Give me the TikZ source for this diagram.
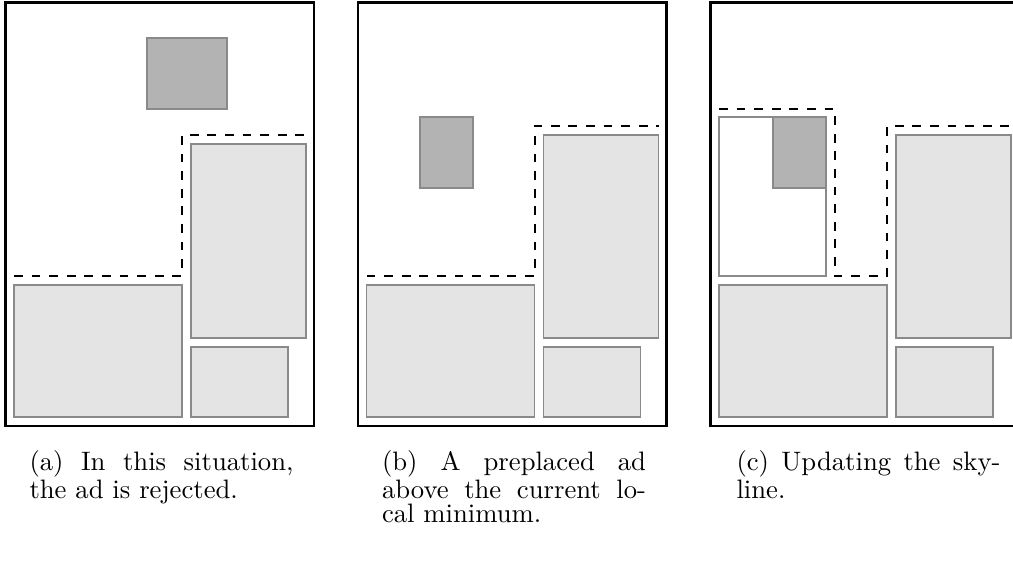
\documentclass[tikz,border=0pt]{standalone}
\usepackage{tikz}

\definecolor{blockfill}{HTML}{E4E4E4}
\definecolor{blockline}{HTML}{8A8A8A}
\definecolor{adfill}{HTML}{B3B3B3}

\tikzset{
  frame/.style={draw=black, line width=0.8pt},
  block/.style={draw=blockline, fill=blockfill, line width=0.7pt},
  freeblock/.style={draw=blockline, fill=white, line width=0.7pt},
  adbox/.style={draw=blockline, fill=adfill, line width=0.7pt},
  skyline/.style={draw=black, line width=0.75pt, dash pattern=on 3.3pt off 3.3pt},
  caption/.style={inner sep=0pt, anchor=north west, text width=99pt,
    align=justify, font=\fontsize{10}{9.2}\selectfont}
}

\begin{document}
\begin{tikzpicture}[x=0.375pt, y=-0.375pt]
  \useasboundingbox (0,0) rectangle (1013,563);
  \clip (0,0) rectangle (1013,563);

  % --- panel (a): the ad does not fit and is rejected
  \draw[frame] (5.5,2.5) rectangle (314,426);
  \draw[block] (14,285) rectangle (182,417);
  \draw[block] (191,144) rectangle (306,338);
  \draw[block] (191,347) rectangle (288,417);
  \draw[adbox] (147,38) rectangle (227,109);
  \draw[skyline] (14,276) -- (182,276) -- (182,135) -- (306,135);
  \node[caption] (capa) at (29,450)
    {(a) In this situation,\linebreak the ad is rejected.};

  % --- panel (b): a preplaced ad above the local minimum
  \begin{scope}[shift={(352.5,0)}]
    \draw[frame] (5.5,2.5) rectangle (314,426);
    \draw[block] (14,285) rectangle (182,417);
    \draw[block] (191,135) rectangle (306,338);
    \draw[block] (191,347) rectangle (288,417);
    \draw[adbox] (67.5,117) rectangle (120.5,188);
    \draw[skyline] (14,276) -- (182,276) -- (182,126) -- (306,126);
    \node[caption] (capb) at (29,450)
      {(b) A preplaced ad\linebreak above the current lo-\linebreak cal minimum.};
  \end{scope}

  % --- panel (c): the skyline after the update
  \begin{scope}[shift={(705,0)}]
    \draw[frame] (5.5,2.5) rectangle (314,426);
    \draw[block] (14,285) rectangle (182,417);
    \draw[block] (191,135) rectangle (306,338);
    \draw[block] (191,347) rectangle (288,417);
    \draw[freeblock] (14,117) rectangle (121,276);
    \draw[adbox] (68,117) rectangle (121,188);
    \draw[skyline] (14,109) -- (130,109) -- (130,276) -- (182,276)
      -- (182,126) -- (306,126);
    \node[caption] (capc) at (31,450)
      {(c) Updating the sky-\linebreak line.};
  \end{scope}
\end{tikzpicture}
\end{document}
